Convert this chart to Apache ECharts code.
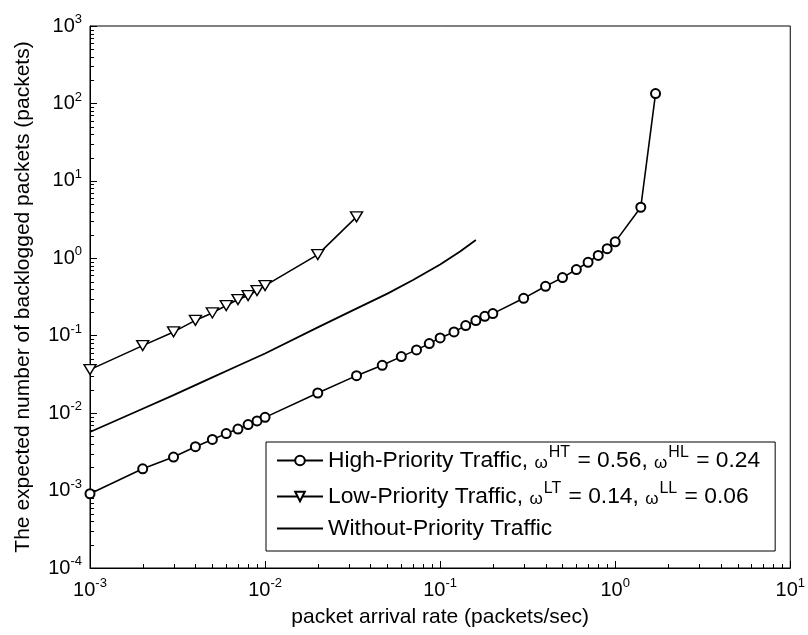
<!DOCTYPE html>
<html>
<head>
<meta charset="utf-8">
<script src="https://cdn.jsdelivr.net/npm/echarts@6.0.0/dist/echarts.min.js"></script>
<style>
  html, body { margin: 0; padding: 0; background: #fff; }
  #chart { width: 808px; height: 635px; }
</style>
</head>
<body>
<div id="chart"></div>
<script>
// packet arrival rate (packets/sec) vs expected backlog (packets)
const highX = [0.001, 0.002, 0.003, 0.004, 0.005, 0.006, 0.007, 0.008, 0.009, 0.01,
  0.02, 0.0333, 0.0467, 0.06, 0.0733, 0.0867, 0.1, 0.12, 0.14, 0.16, 0.18, 0.2,
  0.3, 0.4, 0.5, 0.6, 0.7, 0.8, 0.9, 1.0, 1.4, 1.7];
const highY = [0.00091, 0.00191, 0.00271, 0.00369, 0.00457, 0.00544, 0.00622, 0.00713, 0.00793, 0.00882,
  0.0182, 0.0305, 0.0415, 0.0537, 0.0656, 0.0791, 0.0937, 0.112, 0.135, 0.157, 0.178, 0.193,
  0.304, 0.435, 0.563, 0.715, 0.888, 1.09, 1.33, 1.63, 4.56, 134];

const lowX = [0.001, 0.002, 0.003, 0.004, 0.005, 0.006, 0.007, 0.008, 0.009, 0.01, 0.02, 0.0333];
const lowY = [0.0365, 0.0745, 0.112, 0.158, 0.197, 0.245, 0.293, 0.330, 0.383, 0.444, 1.117, 3.43];

const noPrioX = [0.001, 0.002, 0.003, 0.005, 0.007, 0.01, 0.02, 0.03, 0.05, 0.07, 0.1, 0.13, 0.16];
const noPrioY = [0.0057, 0.0114, 0.0171, 0.029, 0.041, 0.059, 0.128, 0.20, 0.35, 0.525, 0.83, 1.22, 1.72];

const seriesNames = ["High-Priority Traffic", "Low-Priority Traffic", "Without-Priority Traffic"];
const highWeights = [0.56, 0.24]; // omega HT, omega HL
const lowWeights = [0.14, 0.06];  // omega LT, omega LL

const xRange = [0.001, 10];
const yRange = [0.0001, 1000];

const FONT = '"Liberation Sans", Arial, Helvetica, sans-serif';

// minor tick values, 2..9 in every decade
const xMinor = [];
for (let k = -3; k < 1; k++) for (let m = 2; m <= 9; m++) xMinor.push(m * Math.pow(10, k));
const yMinor = [];
for (let k = -4; k < 3; k++) for (let m = 2; m <= 9; m++) yMinor.push(m * Math.pow(10, k));

const pairs = (xs, ys) => xs.map((x, i) => [x, ys[i]]);

const supLabel = (v) => {
  const e = Math.round(Math.log10(v));
  return "{b|10}{e|" + e + "}";
};

const labelRich = {
  b: { fontFamily: FONT, fontSize: 20, color: "#000" },
  e: { fontFamily: FONT, fontSize: 13, color: "#000", padding: [0, 0, 13, 0] },
};

const legendText = {
  "High-Priority Traffic":
    "{t|High-Priority Traffic, }{w|\u03c9}{s|HT}{t| = " + highWeights[0].toFixed(2) +
    ", }{w|\u03c9}{s|HL}{t| = " + highWeights[1].toFixed(2) + "}",
  "Low-Priority Traffic":
    "{t|Low-Priority Traffic, }{w|\u03c9}{s|LT}{t| = " + lowWeights[0].toFixed(2) +
    ", }{w|\u03c9}{s|LL}{t| = " + lowWeights[1].toFixed(2) + "}",
  "Without-Priority Traffic": "{p|Without-Priority Traffic}",
};

const axisBase = {
  type: "log",
  logBase: 10,
  nameLocation: "middle",
  nameTextStyle: { fontFamily: FONT, fontSize: 21, color: "#000" },
  axisLine: { show: true, lineStyle: { color: "#000", width: 1 } },
  axisTick: { show: true, inside: true, length: 7, lineStyle: { color: "#000", width: 1 } },
  splitLine: { show: false },
};

const chart = echarts.init(document.getElementById("chart"));

chart.setOption({
  animation: false,
  backgroundColor: "#fff",
  grid: {
    left: 90, right: 15, top: 26, bottom: 67,
    show: true, borderColor: "#000", borderWidth: 1, backgroundColor: "transparent",
  },
  legend: {
    data: [
      { name: seriesNames[0] },
      { name: seriesNames[1] },
      { name: seriesNames[2], itemStyle: { opacity: 0 } },
    ],
    orient: "vertical",
    left: 266,
    top: 442,
    backgroundColor: "#fff",
    borderColor: "#000",
    borderWidth: 1,
    borderRadius: 0,
    padding: [3, 15, 11, 10],
    itemGap: 9,
    itemWidth: 46,
    itemHeight: 12,
    selectedMode: false,
    textStyle: {
      fontFamily: FONT, fontSize: 22, color: "#000",
      rich: {
        t: { fontFamily: FONT, fontSize: 22.8, color: "#000" },
        p: { fontFamily: FONT, fontSize: 22.8, color: "#000", lineHeight: 16 },
        w: { fontFamily: FONT, fontSize: 17, color: "#000", padding: [5, 1, 0, 0] },
        s: { fontFamily: FONT, fontSize: 16, color: "#000", padding: [0, 1, 15, 0] },
      },
    },
    formatter: (name) => legendText[name],
  },
  xAxis: Object.assign({}, axisBase, {
    min: xRange[0],
    max: xRange[1],
    name: "packet arrival rate (packets/sec)",
    nameGap: 39,
    axisLabel: { show: true, margin: 9, formatter: supLabel, rich: labelRich },
  }),
  yAxis: Object.assign({}, axisBase, {
    min: yRange[0],
    max: yRange[1],
    name: "The expected number of backlogged packets (packets)",
    nameGap: 56,
    axisLabel: { show: true, margin: 8, formatter: supLabel, rich: labelRich },
  }),
  series: [
    {
      name: seriesNames[0],
      type: "line",
      data: pairs(highX, highY),
      symbol: "emptyCircle",
      symbolSize: 9,
      lineStyle: { color: "#000", width: 1.6 },
      itemStyle: { color: "#000", borderColor: "#000", borderWidth: 1.3 },
      z: 3,
    },
    {
      name: seriesNames[1],
      type: "line",
      data: pairs(lowX, lowY),
      symbol: "path://M0,0L12,0L6,10Z",
      symbolSize: [12, 10],
      lineStyle: { color: "#000", width: 1.6 },
      itemStyle: { color: "#fff", borderColor: "#000", borderWidth: 1.4 },
      z: 3,
    },
    {
      name: seriesNames[2],
      type: "line",
      data: pairs(noPrioX, noPrioY),
      symbol: "none",
      showSymbol: false,
      lineStyle: { color: "#000", width: 1.8 },
      itemStyle: { color: "#000" },
      z: 3,
    },
  ],
});

// minor ticks on the log axes, placed through the chart's own scales
const tickLen = 4;
const ticks = [];
xMinor.forEach((v) => {
  const p = chart.convertToPixel({ gridIndex: 0 }, [v, yRange[0]]);
  const x = Math.round(p[0]) + 0.5;
  ticks.push({ type: "line", silent: true,
    shape: { x1: x, y1: p[1], x2: x, y2: p[1] - tickLen },
    style: { stroke: "#000", lineWidth: 1, fill: null } });
});
yMinor.forEach((v) => {
  const p = chart.convertToPixel({ gridIndex: 0 }, [xRange[0], v]);
  const y = Math.round(p[1]) + 0.5;
  ticks.push({ type: "line", silent: true,
    shape: { x1: p[0], y1: y, x2: p[0] + tickLen, y2: y },
    style: { stroke: "#000", lineWidth: 1, fill: null } });
});
chart.setOption({ graphic: { elements: ticks } });
</script>
</body>
</html>
